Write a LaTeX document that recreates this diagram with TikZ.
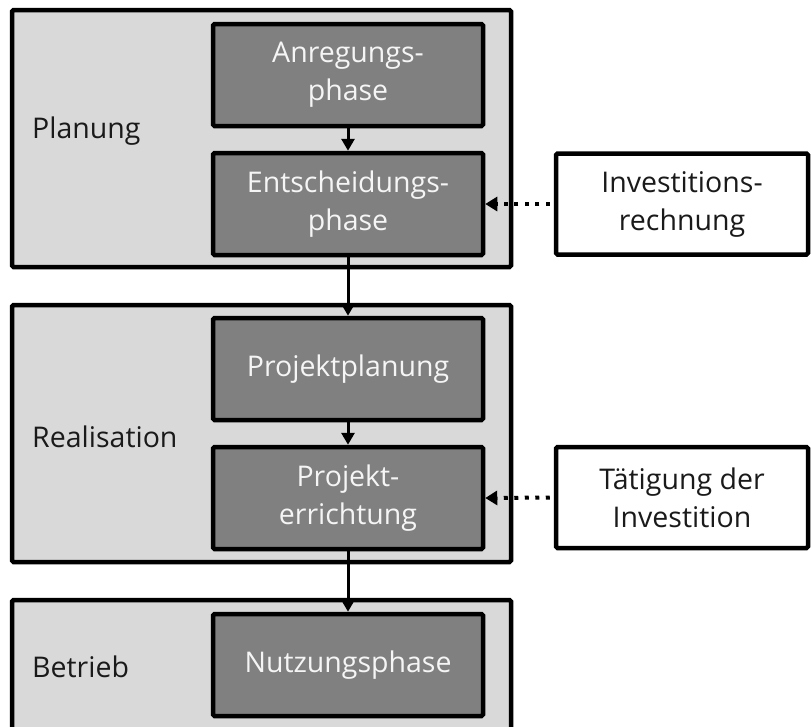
\documentclass[tikz,border=0pt]{standalone}
\usepackage{fontspec}
\setmainfont{Open Sans}
\usetikzlibrary{arrows.meta}
\definecolor{phasefill}{HTML}{D9D9D9}
\definecolor{stepfill}{HTML}{808080}
\definecolor{inktext}{HTML}{1A1A1A}
\begin{document}
\begin{tikzpicture}[x=1pt,y=-1pt,
  every node/.style={font=\fontsize{28.5}{38}\selectfont, align=center, inner sep=0pt, text=inktext},
  phasebox/.style={draw=black, line width=4.5pt, fill=phasefill, rounded corners=1.5pt,
    minimum width=499pt},
  stepbox/.style={draw=black, line width=4.5pt, fill=stepfill, text=white!96!black, rounded corners=1.5pt,
    minimum width=270pt, minimum height=102pt},
  toolbox/.style={draw=black, line width=4.5pt, fill=white, rounded corners=1.5pt,
    minimum width=252pt, minimum height=101pt},
  flow/.style={line width=3pt, -{Triangle[length=12pt,width=13pt]}},
  feed/.style={line width=4pt, dash pattern=on 4pt off 6.5pt, -{Triangle[length=12pt,width=14pt]}, shorten <=4pt}
]
\clip (0,0) rectangle (811,726);
\useasboundingbox (0,0) rectangle (811,726);

% phase frames
\node[phasebox, minimum height=257pt] (plan) at (261.5,138.5) {};
\node[phasebox, minimum height=257pt] (real) at (261.5,433.5) {};
\node[phasebox, minimum height=170pt] (betr) at (261.5,685) {};

% phase labels
\node[anchor=west] (lplan) at (32,131) {Planung};
\node[anchor=west] (lreal) at (32,437) {Realisation};
\node[anchor=west] (lbetr) at (32,667) {Betrieb};

% steps
\node[stepbox] (anr) at (348,75) {Anregungs-\\phase};
\node[stepbox] (ent) at (348,204) {Entscheidungs-\\phase};
\node[stepbox] (ppl) at (348,369) {Projektplanung};
\node[stepbox] (per) at (348,498) {Projekt-\\errichtung};
\node[stepbox] (nut) at (348,665) {Nutzungsphase};

% supporting activities
\node[toolbox] (inv) at (682,204) {Investitions-\\rechnung};
\node[toolbox] (tat) at (682,497.5) {Tätigung der\\Investition};

% sequence
\draw[flow] (anr.south) -- (ent.north);
\draw[flow] (ent.south) -- (ppl.north);
\draw[flow] (ppl.south) -- (per.north);
\draw[flow] (per.south) -- (nut.north);

% inputs
\draw[feed] (inv.west) -- (ent.east);
\draw[feed] (tat.west) -- (per.east);
\end{tikzpicture}
\end{document}
